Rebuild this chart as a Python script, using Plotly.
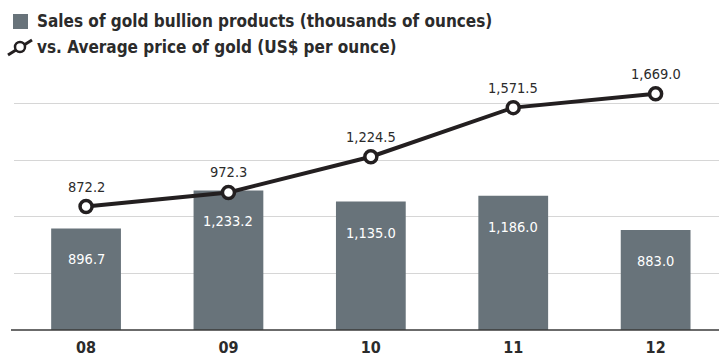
import plotly.graph_objects as go

# Data
years = ["08", "09", "10", "11", "12"]
bullion_sales = [896.7, 1233.2, 1135.0, 1186.0, 883.0]      # thousands of ounces
gold_price = [872.2, 972.3, 1224.5, 1571.5, 1669.0]          # US$ per ounce

legend_bar_text = "Sales of gold bullion products (thousands of ounces)"
legend_line_text = "vs. Average price of gold (US$ per ounce)"

# Layout geometry (pixels)
W, H = 719, 356
ML, MR, MT, MB = 14, 0, 47, 26
PW, PH = W - ML - MR, H - MT - MB

BAR_COLOR = "#68737a"
LINE_COLOR = "#231f20"
TEXT_COLOR = "#2b2b2b"
FONT = "DejaVu Sans Condensed, Liberation Sans, Arial"


def px_x(x):
    return (x - ML) / PW


def px_y(y):
    return (H - MB - y) / PH


fig = go.Figure()

fig.add_trace(go.Bar(
    x=years, y=bullion_sales, width=0.49,
    marker=dict(color=BAR_COLOR, line=dict(width=0)),
    yaxis="y", hoverinfo="skip", showlegend=False,
))

fig.add_trace(go.Scatter(
    x=years, y=gold_price, yaxis="y2", mode="lines+markers",
    line=dict(color=LINE_COLOR, width=4),
    marker=dict(size=12, color="white", line=dict(color=LINE_COLOR, width=3.5)),
    hoverinfo="skip", showlegend=False,
))

annotations = []
for i, v in enumerate(bullion_sales):
    annotations.append(dict(
        x=i, y=v, xref="x", yref="y", text=f"{v:,.1f}", showarrow=False,
        yshift=-31, yanchor="middle",
        font=dict(family=FONT, size=14.5, color="white"),
    ))
for i, v in enumerate(gold_price):
    annotations.append(dict(
        x=i, y=v, xref="x", yref="y2", text=f"{v:,.1f}", showarrow=False,
        yshift=20, yanchor="middle",
        font=dict(family=FONT, size=14.5, color=TEXT_COLOR),
    ))

# Legend texts
annotations.append(dict(
    x=px_x(35), y=px_y(21), xref="paper", yref="paper", xanchor="left", yanchor="middle",
    text=f"<b>{legend_bar_text}</b>", showarrow=False,
    font=dict(family=FONT, size=17, color=TEXT_COLOR),
))
annotations.append(dict(
    x=px_x(35), y=px_y(47), xref="paper", yref="paper", xanchor="left", yanchor="middle",
    text=f"<b>{legend_line_text}</b>", showarrow=False,
    font=dict(family=FONT, size=17, color=TEXT_COLOR),
))

shapes = [
    # baseline
    dict(type="line", xref="paper", yref="paper", x0=px_x(11), x1=1, y0=0, y1=0,
         line=dict(color="#3a3a3a", width=1.5)),
    # legend swatch for bars
    dict(type="rect", xref="paper", yref="paper", x0=px_x(13), x1=px_x(28),
         y0=px_y(29), y1=px_y(14), fillcolor=BAR_COLOR, line=dict(width=0)),
    # legend key for line: diagonal stroke with open circle
    dict(type="line", xref="paper", yref="paper", x0=px_x(8), x1=px_x(32),
         y0=px_y(55), y1=px_y(40), line=dict(color=LINE_COLOR, width=3)),
    dict(type="circle", xref="paper", yref="paper", x0=px_x(15), x1=px_x(25),
         y0=px_y(52), y1=px_y(42), fillcolor="white", line=dict(color=LINE_COLOR, width=2.5)),
]

fig.update_layout(
    width=W, height=H,
    margin=dict(l=ML, r=MR, t=MT, b=MB, pad=0),
    paper_bgcolor="white", plot_bgcolor="white",
    showlegend=False,
    xaxis=dict(
        type="category", range=[-0.506, 4.445], showgrid=False, zeroline=False,
        showline=False, ticks="", ticklabelstandoff=6,
        tickfont=dict(family=FONT, size=16, color=TEXT_COLOR, weight="bold"),
    ),
    yaxis=dict(
        range=[0, 2500], tickvals=[500, 1000, 1500, 2000], showticklabels=False,
        showgrid=True, gridcolor="#d6d6d6", gridwidth=1, zeroline=False, showline=False,
    ),
    yaxis2=dict(
        range=[0, 2000], overlaying="y", side="right", showgrid=False,
        showticklabels=False, zeroline=False, showline=False,
    ),
    annotations=annotations,
    shapes=shapes,
)

fig.write_html("out.html")
